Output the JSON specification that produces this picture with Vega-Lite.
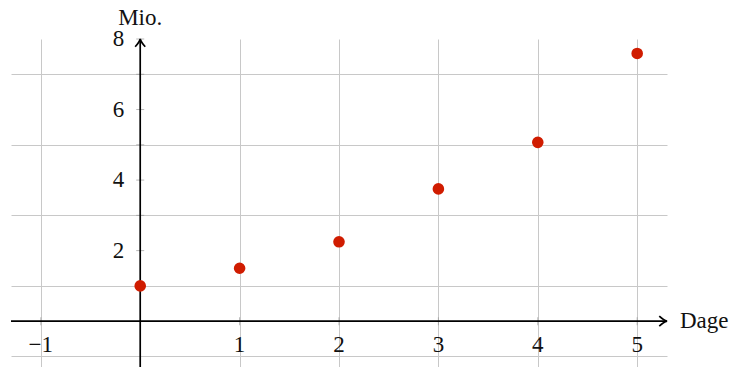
{
  "$schema": "https://vega.github.io/schema/vega-lite/v6.json",
  "width": 656,
  "height": 328,
  "autosize": {"type": "none"},
  "padding": {"left": 11, "top": 39, "right": 67, "bottom": 0},
  "background": "white",
  "config": {"view": {"stroke": null}},
  "datasets": {
    "points": [
      {"day": 0, "mio": 1.0},
      {"day": 1, "mio": 1.5},
      {"day": 2, "mio": 2.25},
      {"day": 3, "mio": 3.75},
      {"day": 4, "mio": 5.07},
      {"day": 5, "mio": 7.59}
    ],
    "xlabels": [
      {"v": -1, "t": "−1"}, {"v": 1, "t": "1"}, {"v": 2, "t": "2"}, {"v": 3, "t": "3"}, {"v": 4, "t": "4"}, {"v": 5, "t": "5"}
    ],
    "ylabels": [
      {"v": 2, "t": "2"}, {"v": 4, "t": "4"}, {"v": 6, "t": "6"}, {"v": 8, "t": "8"}
    ],
    "xticks": [{"v": -1}, {"v": 1}, {"v": 2}, {"v": 3}, {"v": 4}, {"v": 5}],
    "yticks": [{"v": 1}, {"v": 2}, {"v": 3}, {"v": 4}, {"v": 5}, {"v": 6}, {"v": 7}, {"v": 8}],
    "xaxis": [{"x1": -1.3, "x2": 5.28, "y": 0}],
    "yaxis": [{"y1": -1.3, "y2": 7.98, "x": 0}],
    "arrows": [{"x": 5.3, "y": 0, "a": 0}, {"x": 0, "y": 8, "a": -90}],
    "titles": [{"x": 5.3, "y": 0, "t": "Dage"}]
  },
  "layer": [
    {
      "data": {"name": "points"},
      "mark": {"type": "point", "opacity": 0},
      "encoding": {
        "x": {"field": "day", "type": "quantitative", "scale": {"domain": [-1.3, 5.3], "nice": false, "zero": false},
          "axis": {"values": [-1, 0, 1, 2, 3, 4, 5], "grid": true, "gridColor": "#c8c8c8", "gridWidth": 1, "labels": false, "ticks": false, "domain": false, "title": null}},
        "y": {"field": "mio", "type": "quantitative", "scale": {"domain": [-1.3, 8], "nice": false, "zero": false},
          "axis": {"values": [-1, 0, 1, 2, 3, 4, 5, 6, 7, 8], "grid": true, "gridColor": "#c8c8c8", "gridWidth": 1, "labels": false, "ticks": false, "domain": false, "title": null}}
      }
    },
    {
      "data": {"name": "xticks"},
      "mark": {"type": "tick", "orient": "vertical", "size": 8, "thickness": 1, "color": "#999999"},
      "encoding": {"x": {"field": "v", "type": "quantitative"}, "y": {"datum": 0, "type": "quantitative"}}
    },
    {
      "data": {"name": "yticks"},
      "mark": {"type": "tick", "orient": "horizontal", "size": 8, "thickness": 1, "color": "#999999"},
      "encoding": {"y": {"field": "v", "type": "quantitative"}, "x": {"datum": 0, "type": "quantitative"}}
    },
    {
      "data": {"name": "xaxis"},
      "mark": {"type": "rule", "color": "black", "strokeWidth": 1.7},
      "encoding": {"x": {"field": "x1", "type": "quantitative"}, "x2": {"field": "x2"}, "y": {"field": "y", "type": "quantitative"}}
    },
    {
      "data": {"name": "yaxis"},
      "mark": {"type": "rule", "color": "black", "strokeWidth": 1.7},
      "encoding": {"y": {"field": "y1", "type": "quantitative"}, "y2": {"field": "y2"}, "x": {"field": "x", "type": "quantitative"}}
    },
    {
      "data": {"name": "arrows"},
      "mark": {"type": "point", "shape": "M -1 -0.65 Q -0.4 -0.1 0 0 Q -0.4 0.1 -1 0.65", "filled": false, "stroke": "black", "strokeWidth": 1.7, "size": 240, "strokeJoin": "miter", "opacity": 1},
      "encoding": {"x": {"field": "x", "type": "quantitative"}, "y": {"field": "y", "type": "quantitative"}, "angle": {"field": "a", "type": "quantitative", "scale": null}}
    },
    {
      "data": {"name": "points"},
      "mark": {"type": "circle", "size": 135, "color": "#d01c00", "opacity": 1},
      "encoding": {"x": {"field": "day", "type": "quantitative"}, "y": {"field": "mio", "type": "quantitative"}}
    },
    {
      "data": {"name": "xlabels"},
      "mark": {"type": "text", "font": "Liberation Serif", "fontSize": 23, "dy": 24, "baseline": "middle", "align": "center", "color": "#111"},
      "encoding": {"x": {"field": "v", "type": "quantitative"}, "y": {"datum": 0, "type": "quantitative"}, "text": {"field": "t"}}
    },
    {
      "data": {"name": "ylabels"},
      "mark": {"type": "text", "font": "Liberation Serif", "fontSize": 23, "dx": -16, "baseline": "middle", "align": "right", "color": "#111"},
      "encoding": {"y": {"field": "v", "type": "quantitative"}, "x": {"datum": 0, "type": "quantitative"}, "text": {"field": "t"}}
    },
    {
      "data": {"name": "titles"},
      "mark": {"type": "text", "font": "Liberation Serif", "fontSize": 23, "dx": 13, "baseline": "middle", "align": "left", "color": "#111"},
      "encoding": {"x": {"field": "x", "type": "quantitative"}, "y": {"field": "y", "type": "quantitative"}, "text": {"field": "t"}}
    },
    {
      "data": {"values": [{"x": 0, "y": 8, "t": "Mio."}]},
      "mark": {"type": "text", "font": "Liberation Serif", "fontSize": 23, "dy": -14, "baseline": "alphabetic", "align": "center", "color": "#111"},
      "encoding": {"x": {"field": "x", "type": "quantitative"}, "y": {"field": "y", "type": "quantitative"}, "text": {"field": "t"}}
    }
  ]
}
